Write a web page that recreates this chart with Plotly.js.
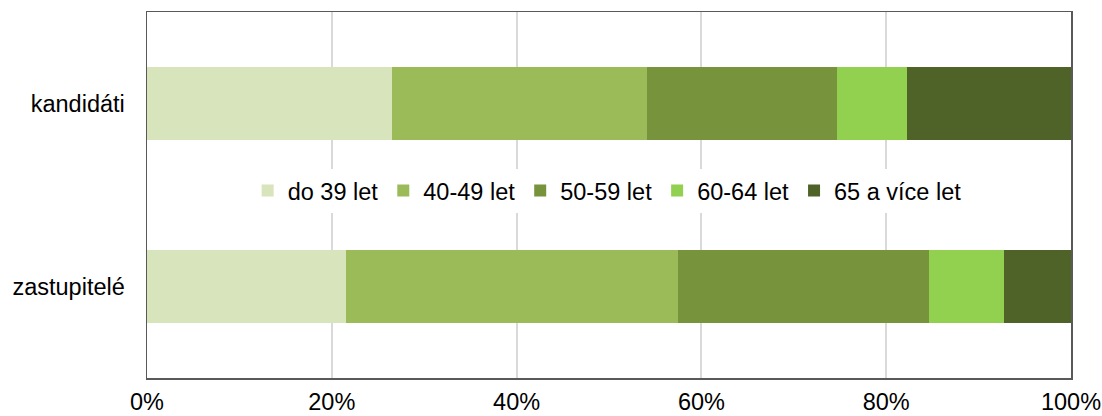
<!DOCTYPE html>
<html>
<head>
<meta charset="utf-8">
<script src="https://cdn.plot.ly/plotly-3.0.1.min.js"></script>
<style>html,body{margin:0;padding:0;background:#fff;}#chart{width:1102px;height:416px;}</style>
</head>
<body>
<div id="chart"></div>
<script>
const categories = ["kandidáti", "zastupitelé"];
const seriesNames = ["do 39 let", "40-49 let", "50-59 let", "60-64 let", "65 a více let"];
const do39 = [26.5, 21.5];
const s40_49 = [27.6, 36.0];
const s50_59 = [20.6, 27.1];
const s60_64 = [7.6, 8.1];
const s65plus = [17.7, 7.3];
const colors = ["#D8E4BC", "#9BBB59", "#77933C", "#92D050", "#4F6228"];
const tickVals = [0, 20, 40, 60, 80, 100];
const tickText = ["0%", "20%", "40%", "60%", "80%", "100%"];

const seriesValues = [do39, s40_49, s50_59, s60_64, s65plus];
const font = {family: "Liberation Sans, Arial, sans-serif", size: 23.5, color: "#000"};

const data = seriesValues.map((vals, i) => ({
  type: "bar",
  orientation: "h",
  name: seriesNames[i],
  x: vals,
  y: categories,
  marker: {color: colors[i], line: {width: 0}},
  hoverinfo: "x+name"
}));

const layout = {
  width: 1102,
  height: 416,
  margin: {l: 147, r: 31, t: 12, b: 38, pad: 0},
  barmode: "stack",
  bargap: 0.6,
  paper_bgcolor: "#fff",
  plot_bgcolor: "#fff",
  font: font,
  showlegend: true,
  legend: {
    orientation: "h",
    x: 0.498, xanchor: "center",
    y: 0.512, yanchor: "middle",
    bgcolor: "#fff",
    font: font,
    traceorder: "normal"
  },
  xaxis: {
    range: [0, 100],
    tickvals: tickVals,
    ticktext: tickText,
    showgrid: true,
    gridcolor: "#d9d9d9",
    gridwidth: 2,
    zeroline: false,
    showline: true,
    linecolor: "#595959",
    linewidth: 1.5,
    mirror: true,
    ticks: "",
    ticklabelstandoff: 2,
    tickfont: font,
    fixedrange: true
  },
  yaxis: {
    type: "category",
    autorange: "reversed",
    showgrid: false,
    zeroline: false,
    showline: true,
    linecolor: "#595959",
    linewidth: 1.5,
    mirror: true,
    ticks: "",
    ticklabelstandoff: 16,
    tickfont: font,
    fixedrange: true
  }
};

Plotly.newPlot("chart", data, layout, {displayModeBar: false, staticPlot: true});
</script>
</body>
</html>
